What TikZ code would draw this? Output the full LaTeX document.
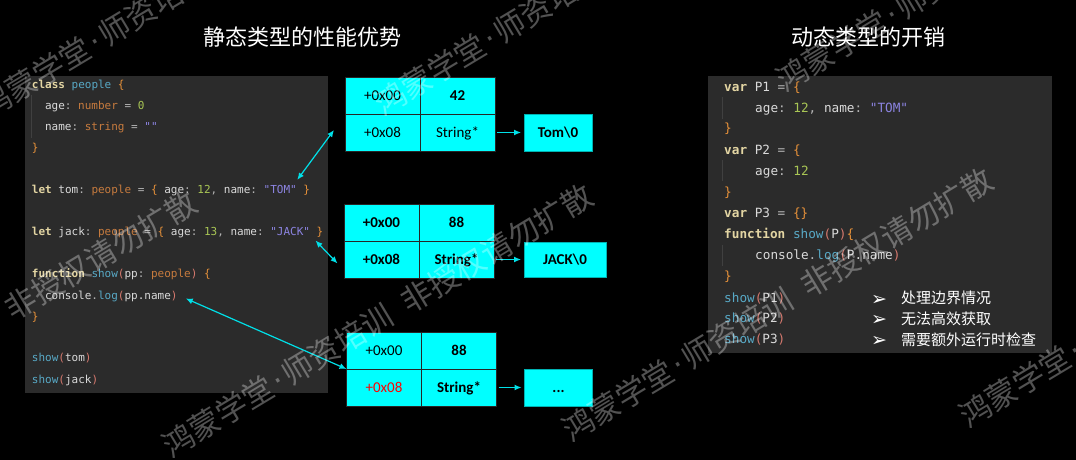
\documentclass[tikz,border=0pt]{standalone}
\usepackage{fontspec}
\setmainfont{Carlito}
\setmonofont{DejaVu Sans Mono}
\newfontfamily\cjk{Noto Sans CJK SC}
\newfontfamily\dings{DejaVu Sans}
\usetikzlibrary{positioning,arrows.meta}

\definecolor{panel}{HTML}{2B2B2B}
\definecolor{guide}{HTML}{404040}
\definecolor{kwc}{HTML}{E3D5A3}
\definecolor{idc}{HTML}{DADADA}
\definecolor{fnc}{HTML}{58A9C6}
\definecolor{brc}{HTML}{E8923A}
\definecolor{tyc}{HTML}{C77B3E}
\definecolor{nmc}{HTML}{A9C655}
\definecolor{stc}{HTML}{8C84E2}
\definecolor{pac}{HTML}{D6796E}
\definecolor{puc}{HTML}{B4B4B4}
\definecolor{cellc}{HTML}{00FFFF}
\definecolor{linkc}{HTML}{00E0E8}

\newcommand\kw[1]{\textcolor{kwc}{\bfseries #1}}
\newcommand\fn[1]{\textcolor{fnc}{#1}}
\newcommand\br[1]{\textcolor{brc}{#1}}
\newcommand\ty[1]{\textcolor{tyc}{#1}}
\newcommand\nm[1]{\textcolor{nmc}{#1}}
\newcommand\st[1]{\textcolor{stc}{#1}}
\newcommand\pa[1]{\textcolor{pac}{#1}}
\newcommand\pu[1]{\textcolor{puc}{#1}}
\newcommand\wmtext{鸿蒙学堂\hspace{0.08em}{\dings ·}\hspace{0.08em}师资培训\hspace{0.5em}非授权请勿扩散}

\tikzset{
	code/.style={font=\fontsize{11}{13}\ttfamily, text=idc, inner sep=0, anchor=base west},
	rcode/.style={font=\fontsize{12.7}{15}\ttfamily, text=idc, inner sep=0, anchor=base west},
	cell/.style={draw=black!85, fill=cellc, line width=0.9pt, minimum width=75pt, minimum height=37pt,
		inner sep=0, outer sep=0, text height=9.5pt, text depth=0pt, font=\fontsize{15}{18}\selectfont, text=black},
	pbox/.style={cell, draw=cellc!70!black, line width=0.6pt, minimum width=68pt, font=\fontsize{15}{18}\selectfont\bfseries},
	link/.style={draw=linkc, line width=1.2pt, {Latex[length=7pt,width=6pt]}-{Latex[length=7pt,width=6pt]}},
	ptr/.style={draw=linkc, line width=1.2pt, -{Latex[length=7pt,width=6pt]}, shorten <=2pt, shorten >=3pt},
	heading/.style={font=\cjk\fontsize{22}{26}\selectfont, text=white},
	point/.style={font=\cjk\fontsize{15}{18}\selectfont, text=white, inner sep=0, anchor=base west},
	bullet/.style={point, font=\dings\fontsize{19}{20}\selectfont},
	wmark/.style={font=\cjk\fontsize{31}{31}\selectfont, text=white, text opacity=0.32, rotate=31, anchor=west, inner sep=0}
}

\begin{document}
\begin{tikzpicture}[x=1pt,y=-1pt]
	%%%%% BACKGROUND %%%%%
	\useasboundingbox (0,0) rectangle (1076,460);
	\clip (0,0) rectangle (1076,460);
	\fill[black] (0,0) rectangle (1076,460);
	
	\node[heading] (t1) at (302,37) {静态类型的性能优势};
	\node[heading] (t2) at (868,37) {动态类型的开销};
	
	%%%%% STATIC CODE %%%%%
	\fill[panel] (25,76) rectangle (328,393);
	\draw[guide] (31,95) -- (31,138);
	\node[code] (lc1) at (31.7,88.5) {\kw{class} \fn{people} \br{\{}};
	\node[code] (lc2) at (44.9,109.5) {age\pu{:} \ty{number} \pu{=} \nm{0}};
	\node[code] (lc3) at (44.9,130.5) {name\pu{:} \ty{string} \pu{=} \st{""}};
	\node[code] (lc4) at (31.7,151.5) {\br{\}}};
	\node[code] (ltom) at (31.7,193.5) {\kw{let} tom\pu{:} \ty{people} \pu{=} \br{\{} age\pu{:} \nm{12}\pu{,} name\pu{:} \st{"TOM"} \br{\}}};
	\node[code] (ljack) at (31.7,235.5) {\kw{let} jack\pu{:} \ty{people} \pu{=} \br{\{} age\pu{:} \nm{13}\pu{,} name\pu{:} \st{"JACK"} \br{\}}};
	\node[code] (lfun) at (31.7,277.5) {\kw{function} \fn{show}\pa{(}pp\pu{:} \ty{people}\pa{)} \br{\{}};
	\node[code] (llog) at (44.9,299) {console\pu{.}\fn{log}\pa{(}pp.name\pa{)}};
	\node[code] (lend) at (31.7,320) {\br{\}}};
	\node[code] (lshow1) at (31.7,361.5) {\fn{show}\pa{(}tom\pa{)}};
	\node[code] (lshow2) at (31.7,383) {\fn{show}\pa{(}jack\pa{)}};
	
	%%%%% MEMORY %%%%%
	\node[cell] (g1c00) at (382.5,95.5) {+0x00};
	\node[cell, right=0pt of g1c00] (g1c01) {\bfseries 42};
	\node[cell, below=0pt of g1c00] (g1c10) {+0x08};
	\node[cell, right=0pt of g1c10] (g1c11) {String*};
	\node[pbox, right=29pt of g1c11] (tom) {Tom\textbackslash 0};
	
	\node[cell] (g2c00) at (381.5,222.5) {\bfseries +0x00};
	\node[cell, right=0pt of g2c00] (g2c01) {\bfseries 88};
	\node[cell, below=0pt of g2c00] (g2c10) {\bfseries +0x08};
	\node[cell, right=0pt of g2c10] (g2c11) {\bfseries String*};
	\node[pbox, right=30pt of g2c11, minimum width=82pt, minimum height=35pt] (jack) {JACK\textbackslash 0};
	
	\node[cell] (g3c00) at (384,350.5) {+0x00};
	\node[cell, right=0pt of g3c00] (g3c01) {\bfseries 88};
	\node[cell, below=0pt of g3c00, text=red] (g3c10) {+0x08};
	\node[cell, right=0pt of g3c10] (g3c11) {\bfseries String*};
	\node[pbox, right=28pt of g3c11] (more) {...};
	
	\draw[ptr] (g1c11.east) -- (tom.west);
	\draw[ptr] (g2c11.east) -- (jack.west);
	\draw[ptr] (g3c11.east) -- (more.west);
	
	\draw[link] ([xshift=-13pt,yshift=5pt]ltom.north east) -- ([xshift=-11pt,yshift=2.5pt]g1c10.west);
	\draw[link] ([xshift=-8pt,yshift=-2.5pt]ljack.south east) -- ([xshift=-6.5pt,yshift=-4pt]g2c10.west);
	\draw[link] ([xshift=8pt,yshift=-2.5pt]llog.east) -- (g3c10.north west);
	
	%%%%% DYNAMIC CODE %%%%%
	\fill[panel] (708,76) rectangle (1052,353);
	\draw[guide] (722.5,97) -- (722.5,119);
	\draw[guide] (722.5,160) -- (722.5,181);
	\draw[guide] (722.5,245) -- (722.5,266);
	\node[rcode] (rc1) at (724,91.5) {\kw{var} P1 \pu{=} \br{\{}};
	\node[rcode] (rc2) at (755,112.5) {age\pu{:} \nm{12}\pu{,} name\pu{:} \st{"TOM"}};
	\node[rcode] (rc3) at (724,132.5) {\br{\}}};
	\node[rcode] (rc4) at (724,154.5) {\kw{var} P2 \pu{=} \br{\{}};
	\node[rcode] (rc5) at (755,175.5) {age\pu{:} \nm{12}};
	\node[rcode] (rc6) at (724,196.5) {\br{\}}};
	\node[rcode] (rc7) at (724,217.5) {\kw{var} P3 \pu{=} \br{\{\}}};
	\node[rcode] (rc8) at (724,238.5) {\kw{function} \fn{show}\pa{(}P\pa{)}\br{\{}};
	\node[rcode] (rc9) at (755,259.5) {console\pu{.}\fn{log}\pa{(}P.name\pa{)}};
	\node[rcode] (rc10) at (724,280.5) {\br{\}}};
	\node[rcode] (rc11) at (724,302) {\fn{show}\pa{(}P1\pa{)}};
	\node[rcode] (rc12) at (724,322.5) {\fn{show}\pa{(}P2\pa{)}};
	\node[rcode] (rc13) at (724,343.5) {\fn{show}\pa{(}P3\pa{)}};
	
	\node[bullet] (b1) at (871,305) {➢};
	\node[bullet] (b2) at (871,325.5) {➢};
	\node[bullet] (b3) at (871,346.5) {➢};
	\node[point] (p1) at (901,303.5) {处理边界情况};
	\node[point] (p2) at (901,324) {无法高效获取};
	\node[point] (p3) at (901,345) {需要额外运行时检查};
	
	%%%%% WATERMARK %%%%%
	\node[wmark] (wm1) at (-231,455) {\wmtext};
	\node[wmark] (wm2) at (165,448) {\wmtext};
	\node[wmark] (wm3) at (565,432) {\wmtext};
	\node[wmark] (wm4) at (962,418) {\wmtext};
	\node[wmark] (wm5) at (-18,109) {\wmtext};
	\node[wmark] (wm6) at (377,106) {\wmtext};
	\node[wmark] (wm7) at (779,82) {\wmtext};
\end{tikzpicture}
\end{document}
